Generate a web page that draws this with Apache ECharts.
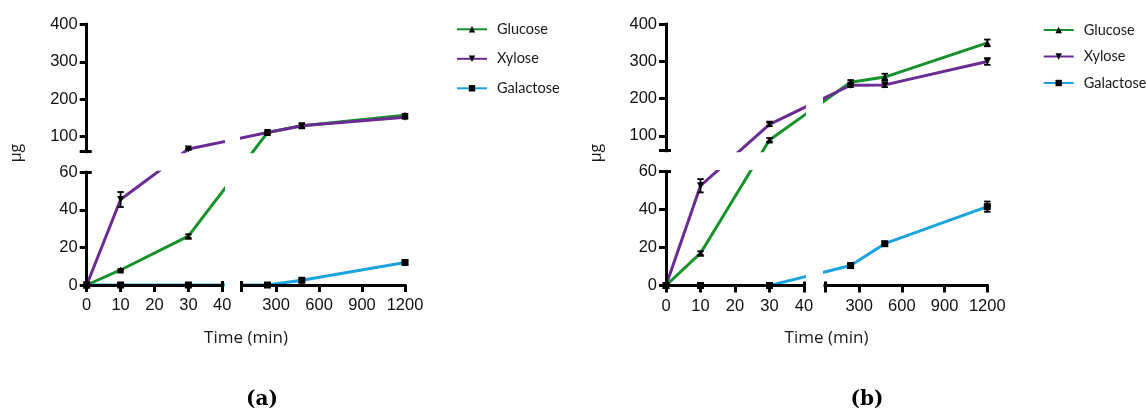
<!DOCTYPE html>
<html><head><meta charset="utf-8">
<script src="https://cdn.jsdelivr.net/npm/echarts@6/dist/echarts.min.js"></script>
<style>html,body{margin:0;padding:0;background:#fff}#c{width:1146px;height:418px}</style>
</head><body><div id="c"></div>
<script>
// ---------------- data ----------------
const TIME = [0, 10, 30, 240, 480, 1200];             // Time (min)
const SERIES_NAMES = ['Glucose', 'Xylose', 'Galactose'];
// panel (a)
const A_GLUCOSE   = [0, 8, 26, 111, 129, 157];
const A_XYLOSE    = [0, 45.5, 67, 111, 129, 152];
const A_GALACTOSE = [0, 0, 0, 0, 2.5, 12];
const A_GLUCOSE_ERR   = [0, 0.5, 1, 3, 5, 4];
const A_XYLOSE_ERR    = [0, 4, 2, 3, 5, 4];
const A_GALACTOSE_ERR = [0, 0, 0, 0, 1, 1];
// panel (b)
const B_GLUCOSE   = [0, 17, 89, 244, 258, 350];
const B_XYLOSE    = [0, 52.5, 131, 236, 237, 300];
const B_GALACTOSE = [0, 0, 0, 10.5, 22, 41.5];
const B_GLUCOSE_ERR   = [0, 1, 5, 6, 9, 9];
const B_XYLOSE_ERR    = [0, 3.5, 5, 5, 6, 9];
const B_GALACTOSE_ERR = [0, 0, 0, 1, 1, 2.7];
// axes (broken)
const X_SEGMENTS = [[0, 40], [60, 1200]];
const Y_SEGMENTS = [[0, 60], [60, 400]];
const X_LEFT_TICKS = [0, 10, 20, 30, 40];
const X_RIGHT_TICKS = [300, 600, 900, 1200];
const Y_LOW_TICKS = [0, 20, 40, 60];
const Y_HIGH_TICKS = [100, 200, 300, 400];
const PANEL_LABELS = ['(a)', '(b)'];
const X_TITLE = 'Time (min)';
const Y_TITLE = 'µg';

// ---------------- layout / style ----------------
const COLORS = ['#15922c', '#6a2b93', '#1aa3df'];
const SYMBOLS = ['triangle', 'triangle', 'rect'];
const ROTATE = [0, 180, 0];
const TICK_FONT = 'Liberation Sans';
const PANELS = [
  { x: [[86.7, 222.3], [241.7, 405]], y: [[285, 172.3], [151.7, 24.3]],
    vals: [A_GLUCOSE, A_XYLOSE, A_GALACTOSE], errs: [A_GLUCOSE_ERR, A_XYLOSE_ERR, A_GALACTOSE_ERR],
    legend: { left: 456, top: 20.8, gap: 12.5 }, yTitle: [16, 153], xTitle: [246, 338], label: [262, 400] },
  { x: [[666, 804], [825, 987.3]], y: [[285.5, 171.5], [150.7, 24.3]],
    vals: [B_GLUCOSE, B_XYLOSE, B_GALACTOSE], errs: [B_GLUCOSE_ERR, B_XYLOSE_ERR, B_GALACTOSE_ERR],
    legend: { left: 1042.7, top: 21.5, gap: 9.5 }, yTitle: [596, 153], xTitle: [826.5, 338], label: [867, 400] }
];

// broken-axis scale helpers
function segOf(v, segs) {
  for (let i = 0; i < segs.length; i++) if (v >= segs[i][0] - 1e-9 && v <= segs[i][1] + 1e-9) return i;
  return v < segs[0][0] ? 0 : segs.length - 1;
}
function toPx(v, segs, pxs) {
  const i = segOf(v, segs), s = segs[i], p = pxs[i];
  return p[0] + (v - s[0]) / (s[1] - s[0]) * (p[1] - p[0]);
}
function fromPx(px, s, p) { return s[0] + (px - p[0]) / (p[1] - p[0]) * (s[1] - s[0]); }

const AX_LINE = { show: true, onZero: false, lineStyle: { color: '#000', width: 3, cap: 'square' } };
const TICK_STYLE = { color: '#000', width: 3 };
const LABEL = { color: '#111', fontFamily: TICK_FONT, fontSize: 16.5, formatter: v => String(Math.round(v)) };

const grids = [], xAxes = [], yAxes = [], series = [], graphic = [], legends = [];

PANELS.forEach((P, pi) => {
  for (let j = 0; j < 2; j++) for (let i = 0; i < 2; i++) {
    const gi = grids.length;
    grids.push({ left: P.x[i][0], top: P.y[j][1], width: P.x[i][1] - P.x[i][0],
      height: P.y[j][0] - P.y[j][1], containLabel: false, outerBoundsMode: 'none' });
    const xs = X_SEGMENTS[i], ys = Y_SEGMENTS[j];
    // main x axis
    const xi = xAxes.length;
    const showX = (j === 0);
    const xAx = { type: 'value', gridIndex: gi, min: xs[0], max: xs[1], position: 'bottom', z: 3,
      show: showX, splitLine: { show: false }, axisLine: AX_LINE,
      axisTick: { show: true, length: 7, lineStyle: TICK_STYLE },
      axisLabel: Object.assign({ margin: 12 }, LABEL) };
    if (i === 0) { xAx.interval = 10; xAx.axisTick.customValues = X_LEFT_TICKS; xAx.axisLabel.customValues = X_LEFT_TICKS; }
    else { xAx.axisTick.customValues = [xs[0]].concat(X_RIGHT_TICKS); xAx.axisLabel.customValues = X_RIGHT_TICKS; }
    xAxes.push(xAx);
    // main y axis
    const yi = yAxes.length;
    const showY = (i === 0);
    const yAx = { type: 'value', gridIndex: gi, min: ys[0], max: ys[1], position: 'left', z: 3,
      show: showY, splitLine: { show: false }, axisLine: AX_LINE,
      axisTick: { show: true, length: 7, lineStyle: TICK_STYLE },
      axisLabel: Object.assign({ margin: 9 }, LABEL) };
    if (j === 0) { yAx.axisTick.customValues = Y_LOW_TICKS; yAx.axisLabel.customValues = Y_LOW_TICKS; }
    else { yAx.axisTick.customValues = [ys[0]].concat(Y_HIGH_TICKS); yAx.axisLabel.customValues = Y_HIGH_TICKS; }
    yAxes.push(yAx);
    // segment end caps (inward ticks)
    if (showX) {
      xAxes.push({ type: 'value', gridIndex: gi, min: xs[0], max: xs[1], position: 'bottom', z: 3,
        splitLine: { show: false }, axisLine: { show: false },
        axisTick: { show: true, inside: true, length: 4, lineStyle: TICK_STYLE, customValues: [i === 0 ? xs[1] : xs[0]] },
        axisLabel: { show: false } });
    }
    if (showY) {
      yAxes.push({ type: 'value', gridIndex: gi, min: ys[0], max: ys[1], position: 'left', z: 3,
        splitLine: { show: false }, axisLine: { show: false },
        axisTick: { show: true, inside: true, length: 5, lineStyle: TICK_STYLE, customValues: [j === 0 ? ys[1] : ys[0]] },
        axisLabel: { show: false } });
    }
    // series, clipped to this segment grid
    for (let s = 0; s < 3; s++) {
      const vals = P.vals[s];
      const data = TIME.map((t, k) => [
        fromPx(toPx(t, X_SEGMENTS, P.x), xs, P.x[i]),
        fromPx(toPx(vals[k], Y_SEGMENTS, P.y), ys, P.y[j])
      ]);
      series.push({ type: 'line', name: SERIES_NAMES[s], xAxisIndex: xi, yAxisIndex: yi, data,
        clip: true, symbol: SYMBOLS[s], symbolRotate: ROTATE[s], symbolSize: 7, showAllSymbol: true,
        lineStyle: { color: COLORS[s], width: 3 }, itemStyle: { color: '#000' },
        emphasis: { disabled: true }, silent: true, animation: false, z: 2 });
      // error bars for points inside this segment
      const eb = [];
      TIME.forEach((t, k) => {
        const e = P.errs[s][k];
        if (!e) return;
        if (segOf(t, X_SEGMENTS) !== i || segOf(vals[k], Y_SEGMENTS) !== j) return;
        eb.push([t, vals[k], vals[k] - e, vals[k] + e]);
      });
      if (eb.length) {
        series.push({ type: 'custom', name: SERIES_NAMES[s] + ' SEM', xAxisIndex: xi, yAxisIndex: yi,
          data: eb, silent: true, animation: false, z: 4,
          renderItem: (params, api) => {
            const lo = api.coord([api.value(0), api.value(2)]);
            const hi = api.coord([api.value(0), api.value(3)]);
            const w = 3.2, st = { stroke: '#000', lineWidth: 1.8 };
            return { type: 'group', children: [
              { type: 'line', shape: { x1: lo[0], y1: lo[1], x2: hi[0], y2: hi[1] }, style: st },
              { type: 'line', shape: { x1: hi[0] - w, y1: hi[1], x2: hi[0] + w, y2: hi[1] }, style: st },
              { type: 'line', shape: { x1: lo[0] - w, y1: lo[1], x2: lo[0] + w, y2: lo[1] }, style: st }
            ] };
          } });
      }
    }
  }
  legends.push({ data: SERIES_NAMES, orient: 'vertical', left: P.legend.left, top: P.legend.top,
    itemWidth: 30, itemHeight: 8, itemGap: P.legend.gap, padding: 0, selectedMode: false,
    textStyle: { fontFamily: 'Lato', fontSize: 14.5, color: '#1a1a1a', lineHeight: 17, padding: [0, 0, 0, 5] } });
  graphic.push({ type: 'text', x: P.yTitle[0], y: P.yTitle[1], rotation: Math.PI / 2,
    style: { text: Y_TITLE, font: '16px "Open Sans"', textAlign: 'center', textVerticalAlign: 'middle',
      align: 'center', verticalAlign: 'middle', fill: '#1a1a1a' } });
  graphic.push({ type: 'text', x: P.xTitle[0], y: P.xTitle[1],
    style: { text: X_TITLE, font: '17px "Open Sans"', textAlign: 'center', textVerticalAlign: 'middle',
      align: 'center', verticalAlign: 'middle', fill: '#1a1a1a' } });
  graphic.push({ type: 'text', x: P.label[0], y: P.label[1],
    style: { text: PANEL_LABELS[pi], font: 'bold 20px "DejaVu Serif"', textAlign: 'center', textVerticalAlign: 'middle',
      align: 'center', verticalAlign: 'middle', fill: '#000' } });
});

const chart = echarts.init(document.getElementById('c'), null, { renderer: 'canvas' });
chart.setOption({
  animation: false,
  backgroundColor: '#fff',
  grid: grids, xAxis: xAxes, yAxis: yAxes, series: series,
  legend: legends, graphic: graphic, tooltip: { show: false }
});
</script></body></html>
